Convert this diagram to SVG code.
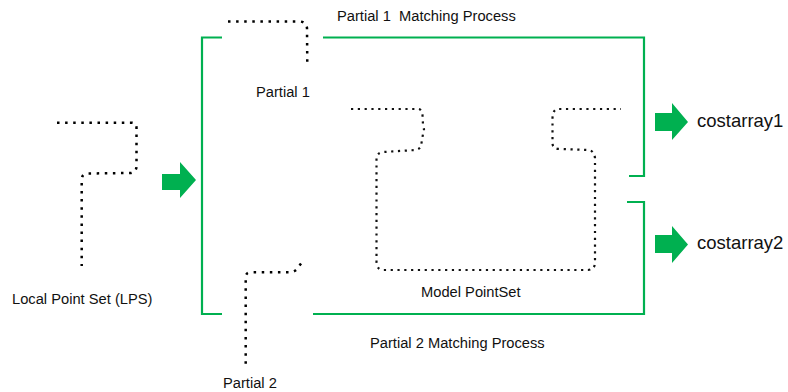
<svg xmlns="http://www.w3.org/2000/svg" width="788" height="392" viewBox="0 0 788 392">
<style>
.dots{fill:none;stroke:#000;stroke-width:2.5;stroke-dasharray:2.5 5.6;}
.mdots{fill:none;stroke:#111;stroke-width:2.2;stroke-dasharray:2.2 4.6;}
.bracket{fill:none;stroke:#00B050;stroke-width:2.2;}
.arrow{fill:#00B050;stroke:none;}
.lbl{font-family:"Liberation Sans",Arial,sans-serif;font-size:14.7px;fill:#111;white-space:pre;}
.out{font-family:"Liberation Sans",Arial,sans-serif;font-size:18.5px;fill:#111;}
</style>
<rect width="788" height="392" fill="#fff"/>
<g id="lps">
<path class="dots" d="M57,122.7 L131,122.7 Q136.5,122.7 136.5,128 L136.5,166 Q136.5,172 131,173 L87,173.5 Q81.7,174 81.7,180 L81.7,266"/>
<text class="lbl" x="12" y="304">Local Point Set (LPS)</text>
</g>
<g id="partial1">
<path class="dots" d="M228,21.5 L300,21.5 Q306,22 307,28 L307.3,66"/>
<text class="lbl" x="256" y="97">Partial 1</text>
</g>
<g id="partial2">
<path class="dots" d="M301,263.5 L297,269 Q294,272.3 290,272.3 L251,272.3 Q245.7,272.5 245.7,277 L245.7,364"/>
<text class="lbl" x="223" y="388">Partial 2</text>
</g>
<g id="model">
<path class="mdots" d="M351,109 L419,109 Q422,110 422.5,115 L423,125 Q425,131 423,134 L421,146 Q420,149 416,150 L383,152 Q377,153 376.5,158 L376.5,262 Q377,270 383,270 L588,270 Q595,269 595,263 L595,158 Q594,151 589,150 L560,149 Q552.5,149 552.5,143 L552.5,118 Q553,109 558,109 L621,109"/>
<text class="lbl" x="421" y="297">Model PointSet</text>
</g>
<g id="process1">
<text class="lbl" x="337" y="21">Partial 1  Matching Process</text>
</g>
<g id="process2">
<text class="lbl" x="370" y="348">Partial 2 Matching Process</text>
</g>
<g id="costarray1">
<text class="out" x="697" y="127">costarray1</text>
</g>
<g id="costarray2">
<text class="out" x="697" y="249">costarray2</text>
</g>
<g id="connectors">
<path class="bracket" d="M222,37.5 L202,37.5 L202,314 L222,314"/>
<path class="bracket" d="M323,37.5 L644,37.5 L644,176 L629,176"/>
<path class="bracket" d="M313,314 L644,314 L644,202 L627,202"/>
<polygon class="arrow" points="162,174 180,174 180,162 196,180 180,198 180,190 162,190"/>
<polygon class="arrow" points="655,113 672,113 672,103 688,122 672,140 672,131 655,131"/>
<polygon class="arrow" points="655,235 672,235 672,226 688,244.5 672,263 672,253 655,253"/>
</g>
</svg>
